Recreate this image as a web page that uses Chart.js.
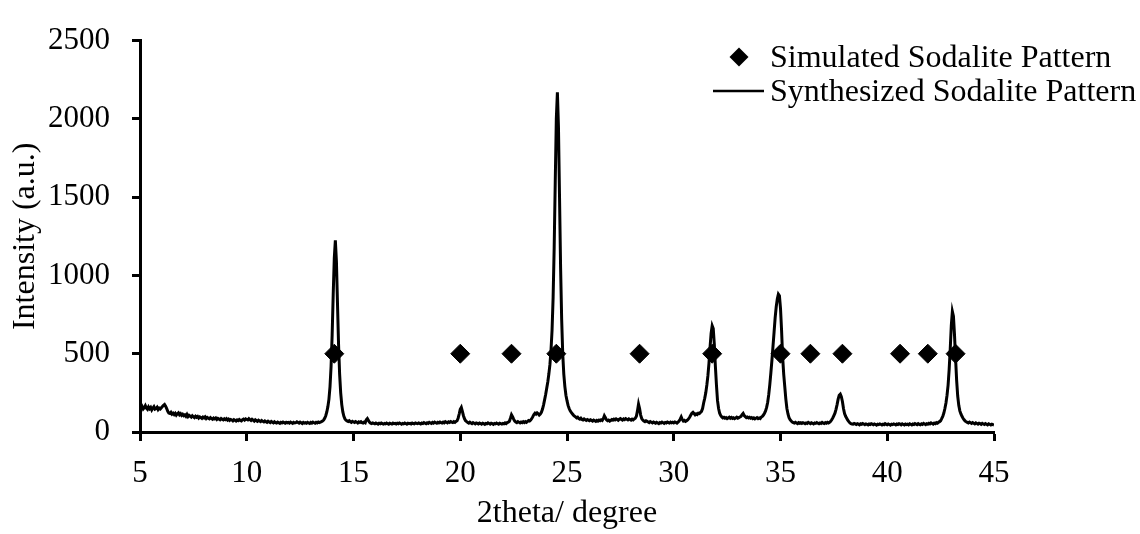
<!DOCTYPE html>
<html>
<head>
<meta charset="utf-8">
<title>Sodalite XRD</title>
<script src="https://cdn.jsdelivr.net/npm/chart.js@4.4.1/dist/chart.umd.min.js"></script>
<style>
    html, body { margin: 0; padding: 0; background: #fff; }
    #wrap { width: 1140px; height: 534px; }
</style>
</head>
<body>
<div id="wrap"><canvas id="xrdChart" width="1140" height="534"></canvas></div>
<script>
// diffractometer scan: 5 to 45 deg 2theta, 0.05 deg per step
const scanStart = 5;
const scanStep = 0.05;

// measured counts, one row per degree (20 steps each)
const scanCounts = [
    158,150,162,147,155,168,152,145,160,149,157,141,153,162,146,150,158,143,152,147, // 5
    155,163,170,176,165,150,132,121,118,126,114,120,111,119,108,116,122,110,117,106, // 6
    113,104,109,100,112,98,106,101,95,104,97,92,101,94,99,89,96,92,87,95,            // 7
    90,97,86,93,88,84,92,86,81,89,84,90,80,87,83,78,86,81,77,84,                     // 8
    79,85,76,82,74,80,77,71,79,75,70,77,73,80,74,71,78,82,76,84,                     // 9
    80,77,85,79,74,81,76,70,78,72,68,75,70,66,73,68,64,71,66,62,                     // 10
    69,64,60,67,62,58,65,60,57,63,59,55,62,58,64,60,56,62,58,61,                     // 11
    57,63,59,55,62,58,60,65,61,57,63,59,54,61,57,60,56,62,58,55,                     // 12
    61,57,63,59,56,62,58,64,60,63,66,70,76,88,104,128,162,210,290,420,               // 13
    620,880,1110,1225,1090,820,560,370,250,175,128,100,84,76,70,67,72,66,62,68,      // 14
    64,61,67,63,58,65,61,66,60,57,63,59,78,86,74,62,57,54,58,55,                     // 15
    52,57,54,50,56,53,58,54,51,55,52,57,53,50,56,54,51,57,53,55,                     // 16
    51,56,53,58,54,50,55,52,57,54,50,56,53,55,51,57,54,52,58,55,                     // 17
    53,58,55,51,57,54,60,56,53,59,55,62,58,55,61,57,63,59,56,62,                     // 18
    58,64,60,57,63,59,66,62,58,65,61,67,63,60,66,62,68,72,88,115,                    // 19
    145,157,132,104,84,72,66,61,57,63,58,54,60,56,52,58,55,51,57,54,                 // 20
    50,56,53,49,55,52,58,54,50,56,53,49,55,52,57,53,50,56,54,51,                     // 21
    55,52,58,54,60,63,68,88,110,98,82,70,64,60,66,62,58,64,60,66,                    // 22
    60,66,62,68,73,70,76,86,98,112,120,114,122,116,108,114,126,145,172,205,          // 23
    240,280,320,370,430,520,650,860,1180,1600,2000,2170,1950,1500,1050,720,500,370,290,235, // 24
    200,170,150,135,125,116,108,102,96,90,94,86,82,88,80,77,83,78,74,80,             // 25
    76,72,78,74,70,76,72,68,74,70,76,72,78,74,85,104,92,78,72,76,                    // 26
    70,74,80,76,82,78,84,80,75,82,86,80,76,83,79,85,81,77,84,80,                     // 27
    76,82,78,84,88,100,135,178,150,108,86,76,70,66,72,68,64,60,66,62,                // 28
    58,64,60,56,62,58,54,60,57,63,59,55,61,58,64,60,57,63,59,62,                     // 29
    58,64,61,57,63,70,82,96,80,70,74,68,72,78,85,96,108,120,126,118,                 // 30
    110,116,112,120,118,125,132,150,185,215,250,300,360,440,540,630,678,660,560,420, // 31
    300,200,150,120,105,96,90,94,88,92,86,90,95,88,93,87,91,85,89,94,                // 32
    88,92,96,100,110,118,105,98,92,96,90,94,88,92,86,90,84,88,92,86,                 // 33
    90,86,95,100,108,120,135,157,190,240,304,380,460,550,640,730,800,850,880,870,    // 34
    790,650,480,370,290,210,150,115,92,78,70,64,60,57,62,58,54,60,56,59,             // 35
    55,60,57,53,58,55,61,57,53,59,56,52,58,55,60,56,53,58,55,61,                     // 36
    57,54,60,56,62,58,62,68,78,90,105,120,145,175,210,235,242,225,195,150,           // 37
    118,100,88,75,66,58,54,51,50,55,52,48,53,50,46,52,49,54,51,47,                   // 38
    52,49,45,51,48,53,50,46,51,48,44,50,47,52,49,45,50,47,53,49,                     // 39
    46,51,48,44,50,47,52,49,45,51,48,53,50,46,52,48,45,51,47,50,                     // 40
    46,52,49,45,51,48,54,50,47,53,49,46,52,48,55,51,47,53,50,56,                     // 41
    52,58,54,50,57,53,60,56,62,66,72,85,100,120,150,185,235,300,400,530,             // 42
    680,770,740,620,470,330,230,170,135,115,100,88,78,70,66,61,58,63,59,55,          // 43
    60,56,52,58,54,50,56,53,49,55,51,48,54,50,46,52,49,45,50,47,                     // 44
    44                                                                               // 45
];

// reference reflections of simulated sodalite, drawn at a fixed marker height
const simAngles = [14.1, 20.0, 22.4, 24.5, 28.4, 31.8, 35.0, 36.4, 37.9, 40.6, 41.9, 43.2];
const simLevel = [500, 500, 500, 500, 500, 500, 500, 500, 500, 500, 500, 500];

const xTicks = [5, 10, 15, 20, 25, 30, 35, 40, 45];
const yTicks = [0, 500, 1000, 1500, 2000, 2500];

const FONT = 'Liberation Serif, Times New Roman, serif';

const measured = scanCounts.map((c, i) => ({ x: +(scanStart + i * scanStep).toFixed(2), y: c }));
const simulated = simAngles.map((a, i) => ({ x: a, y: simLevel[i] }));

// legend drawn by hand: diamond + line sample, serif text
const patternLegend = {
    id: 'patternLegend',
    afterDraw(chart) {
        const ctx = chart.ctx;
        ctx.save();
        ctx.fillStyle = '#000';
        ctx.strokeStyle = '#000';
        ctx.font = '32px ' + FONT;
        ctx.textBaseline = 'alphabetic';
        ctx.textAlign = 'left';

        // diamond
        const cx = 739, cy = 57, r = 9.5;
        ctx.beginPath();
        ctx.moveTo(cx, cy - r);
        ctx.lineTo(cx + r, cy);
        ctx.lineTo(cx, cy + r);
        ctx.lineTo(cx - r, cy);
        ctx.closePath();
        ctx.fill();
        ctx.fillText('Simulated Sodalite Pattern', 770, 67);

        // line sample
        ctx.lineWidth = 2.5;
        ctx.beginPath();
        ctx.moveTo(713, 91);
        ctx.lineTo(764, 91);
        ctx.stroke();
        ctx.fillText('Synthesized Sodalite Pattern', 770, 101);
        ctx.restore();
    }
};

const plainNumber = v => String(v);

new Chart(document.getElementById('xrdChart'), {
    type: 'scatter',
    data: {
        datasets: [
            {
                label: 'Simulated Sodalite Pattern',
                data: simulated,
                showLine: false,
                pointStyle: 'rectRot',
                pointRadius: 9.5,
                pointHoverRadius: 9.5,
                backgroundColor: '#000',
                borderColor: '#000',
                borderWidth: 1,
                order: 0
            },
            {
                label: 'Synthesized Sodalite Pattern',
                data: measured,
                showLine: true,
                borderColor: '#000',
                borderWidth: 3,
                pointRadius: 0,
                tension: 0,
                order: 1
            }
        ]
    },
    options: {
        responsive: false,
        animation: false,
        layout: { padding: { left: 0, right: 146, top: 29, bottom: 0 } },
        plugins: {
            legend: { display: false },
            tooltip: { enabled: false }
        },
        scales: {
            x: {
                type: 'linear',
                min: 5,
                max: 45,
                afterFit: s => { s.height = 102; },
                afterBuildTicks: s => { s.ticks = xTicks.map(v => ({ value: v })); },
                grid: { drawOnChartArea: false, drawTicks: true, tickLength: 9, tickWidth: 3, tickColor: '#000' },
                border: { display: true, color: '#000', width: 3 },
                ticks: { color: '#000', padding: 14, maxRotation: 0, callback: plainNumber, font: { family: FONT, size: 31 } },
                title: {
                    display: true,
                    text: '2theta/ degree',
                    color: '#000',
                    font: { family: FONT, size: 32 },
                    padding: { top: 0, bottom: 1 }
                }
            },
            y: {
                type: 'linear',
                min: 0,
                max: 2500,
                afterFit: s => { s.width = 140; },
                afterBuildTicks: s => { s.ticks = yTicks.map(v => ({ value: v })); },
                grid: { drawOnChartArea: false, drawTicks: true, tickLength: 8, tickWidth: 3, tickColor: '#000' },
                border: { display: true, color: '#000', width: 3 },
                ticks: { color: '#000', padding: 22, callback: plainNumber, font: { family: FONT, size: 31 } },
                title: {
                    display: true,
                    text: 'Intensity (a.u.)',
                    color: '#000',
                    font: { family: FONT, size: 32 },
                    padding: { top: 6, bottom: 0 }
                }
            }
        }
    },
    plugins: [patternLegend]
});
</script>
</body>
</html>
